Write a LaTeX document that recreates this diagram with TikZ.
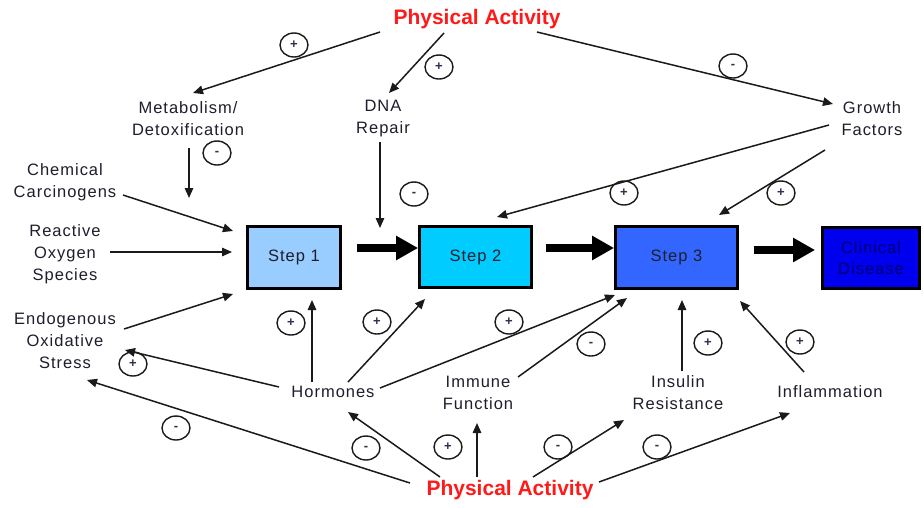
\documentclass[tikz,border=0pt]{standalone}
\usepackage{fontspec}
\setmainfont{Liberation Sans}
\newfontfamily\lblfont[LetterSpace=6]{Liberation Sans}
\usetikzlibrary{arrows.meta,shapes.geometric}
\definecolor{txt}{HTML}{1E1E2C}
\definecolor{arrc}{HTML}{1A1A1A}
\definecolor{pared}{HTML}{FF1A1A}
\definecolor{signc}{HTML}{303050}
\definecolor{sonefill}{HTML}{99CCFF}
\definecolor{stwofill}{HTML}{00CCFF}
\definecolor{sthreefill}{HTML}{3366FF}
\definecolor{clinfill}{HTML}{0000EE}
\definecolor{clintxt}{HTML}{000070}
\begin{document}
\begin{tikzpicture}[x=1pt,y=-1pt,
  lbl/.style={font=\lblfont\fontsize{16.5}{22}\selectfont, text=txt, align=center, inner sep=0pt},
  pa/.style={font=\bfseries\fontsize{21}{24}\selectfont, text=pared, inner sep=0pt},
  stepbox/.style={draw=black, line width=2.8pt, inner sep=0pt, align=center,
    font=\lblfont\fontsize{16.5}{21}\selectfont, text=txt},
  arr/.style={draw=arrc, line width=1.5pt, -{Triangle[length=10pt,width=8.5pt]}},
  bigarr/.style={draw=black, line width=7.5pt, -{Triangle[length=22pt,width=23pt]}},
  sgn/.style={draw=arrc, line width=1.4pt, ellipse, minimum width=28pt, minimum height=24pt,
    inner sep=0pt, font=\bfseries\fontsize{13}{13}\selectfont, text=signc}
]
\fill[white] (0,0) rectangle (924,507);
\useasboundingbox (0,0) rectangle (924,507);

% text nodes
\node[pa] (paT) at (477,19) {Physical Activity};
\node[pa] (paB) at (510,490) {Physical Activity};
\node[lbl] (meta) at (188,119) {Metabolism/\\Detoxification};
\node[lbl] (dna) at (383,119) {DNA\\Repair};
\node[lbl] (growth) at (872,119) {Growth\\Factors};
\node[lbl] (chem) at (65,182) {Chemical\\Carcinogens};
\node[lbl] (ros) at (65,254) {Reactive\\Oxygen\\Species};
\node[lbl] (endo) at (65,341) {Endogenous\\Oxidative\\Stress};
\node[lbl] (horm) at (333,392) {Hormones};
\node[lbl] (imm) at (478,393) {Immune\\Function};
\node[lbl] (ins) at (678,393) {Insulin\\Resistance};
\node[lbl] (infl) at (830,392) {Inflammation};

% step boxes
\node[stepbox, fill=sonefill, minimum width=93pt, minimum height=62pt] (step1) at (294,257.5) {Step 1};
\node[stepbox, fill=stwofill, minimum width=112pt, minimum height=61pt] (step2) at (475.5,257) {Step 2};
\node[stepbox, fill=sthreefill, minimum width=122pt, minimum height=62pt] (step3) at (676.5,257.5) {Step 3};
\node[stepbox, fill=clinfill, minimum width=97pt, minimum height=61pt, text=clintxt] (clin) at (871,258) {Clinical\\Disease};

% thick arrows
\draw[bigarr] ([shift={(15,-9.5)}]step1.east) -- ([shift={(0,-9)}]step2.west);
\draw[bigarr] ([shift={(13,-9)}]step2.east) -- ([shift={(0,-9.5)}]step3.west);
\draw[bigarr] ([shift={(15,-7.5)}]step3.east) -- ([shift={(-6,-8)}]clin.west);

% top physical activity
\draw[arr] ([shift={(-97,13)}]paT.center) -- ([shift={(5,-26)}]meta.center);
\draw[arr] ([shift={(-33,14)}]paT.center) -- ([shift={(6,-26)}]dna.center);
\draw[arr] ([shift={(60,13)}]paT.center) -- ([shift={(-39,-15)}]growth.center);

% into step 1
\draw[arr] ([shift={(1,29)}]meta.center) -- ([shift={(-105,-59.5)}]step1.center);
\draw[arr] ([shift={(58,13)}]chem.center) -- ([shift={(-61,-26.5)}]step1.center);
\draw[arr] ([shift={(45,-2)}]ros.center) -- ([shift={(-62,-5.5)}]step1.center);
\draw[arr] ([shift={(59,-12)}]endo.center) -- ([shift={(-61,36.5)}]step1.center);

% DNA repair
\draw[arr] ([shift={(-3,23)}]dna.center) -- ([shift={(-95.5,-29)}]step2.center);

% growth factors
\draw[arr] ([shift={(-43,6)}]growth.center) -- ([shift={(21.5,-40)}]step2.center);
\draw[arr] ([shift={(-47,31)}]growth.center) -- ([shift={(42.5,-42.5)}]step3.center);

% hormones
\draw[arr] ([shift={(-21,-10)}]horm.center) -- ([shift={(18,42.5)}]step1.center);
\draw[arr] ([shift={(15,-10)}]horm.center) -- ([shift={(-50.5,42)}]step2.center);
\draw[arr] ([shift={(47,-4)}]horm.center) -- ([shift={(-61.5,37.5)}]step3.center);
\draw[arr] ([shift={(-54,-5)}]horm.center) -- ([shift={(60,9)}]endo.center);

% immune, insulin, inflammation
\draw[arr] ([shift={(40,-16)}]imm.center) -- ([shift={(-49.5,40.5)}]step3.center);
\draw[arr] ([shift={(4,-22)}]ins.center) -- ([shift={(5.5,42.5)}]step3.center);
\draw[arr] ([shift={(-26,-20)}]infl.center) -- ([shift={(63.5,43.5)}]step3.center);

% bottom physical activity
\draw[arr] ([shift={(-100,-7)}]paB.center) -- ([shift={(22,39)}]endo.center);
\draw[arr] ([shift={(-70,-13)}]paB.center) -- ([shift={(15,20)}]horm.center);
\draw[arr] ([shift={(-33,-13)}]paB.center) -- ([shift={(-1,30)}]imm.center);
\draw[arr] ([shift={(23,-13)}]paB.center) -- ([shift={(-54,27)}]ins.center);
\draw[arr] ([shift={(89,-8)}]paB.center) -- ([shift={(-40,21)}]infl.center);

% signs
\node[sgn] (s1) at (294,45) {+};
\node[sgn] (s2) at (439,67) {+};
\node[sgn] (s3) at (733,66) {-};
\node[sgn] (s4) at (217,153) {-};
\node[sgn] (s5) at (414,194) {-};
\node[sgn] (s9) at (624,193) {+};
\node[sgn] (s10) at (781,193) {+};
\node[sgn] (s11) at (291,323) {+};
\node[sgn] (s12) at (377,322) {+};
\node[sgn] (s13) at (509,322) {+};
\node[sgn] (s14) at (133,364) {+};
\node[sgn] (s15) at (591,344) {-};
\node[sgn] (s16) at (708,343) {+};
\node[sgn] (s17) at (800,342) {+};
\node[sgn] (s18) at (176,428) {-};
\node[sgn] (s19) at (366,448) {-};
\node[sgn] (s20) at (448,447) {+};
\node[sgn] (s21) at (558,447) {-};
\node[sgn] (s22) at (657,447) {-};
\end{tikzpicture}
\end{document}
